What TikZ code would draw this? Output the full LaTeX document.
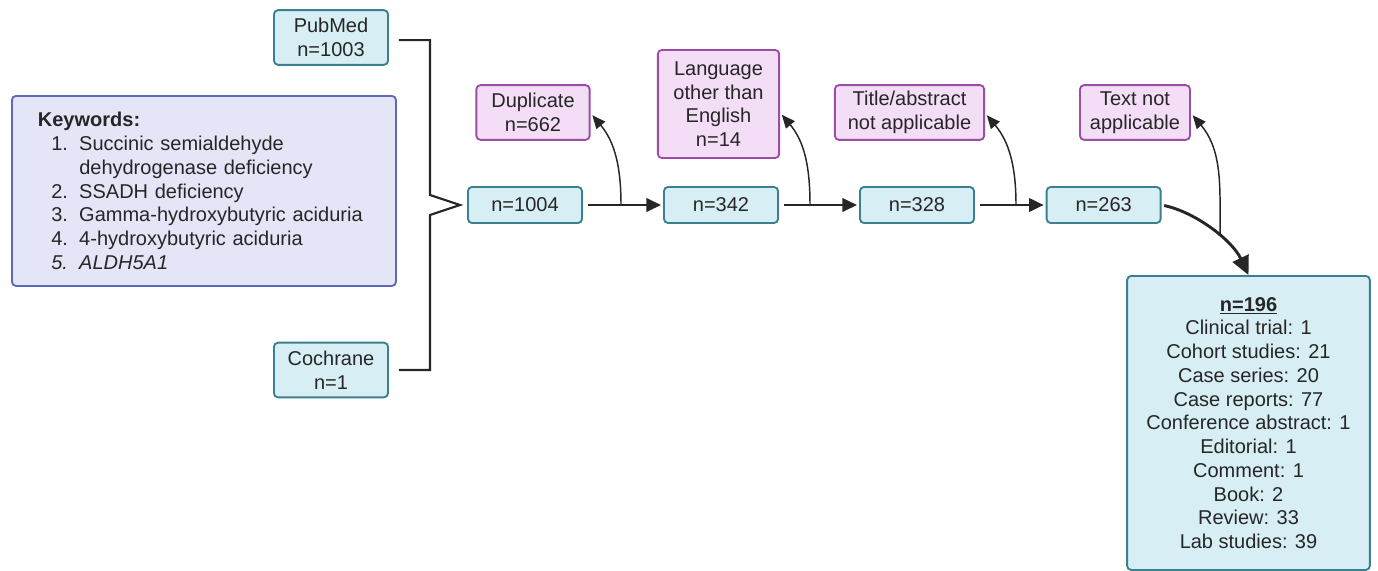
\documentclass[tikz,border=0pt]{standalone}
\usepackage{fontspec}
\setmainfont{Liberation Sans}
\usepackage{xcolor}
\usetikzlibrary{arrows.meta}
\definecolor{boxblue}{HTML}{D7EEF4}
\definecolor{lineblue}{HTML}{3A8090}
\definecolor{boxpurple}{HTML}{F4DDF6}
\definecolor{linepurple}{HTML}{9A4EA6}
\definecolor{boxlilac}{HTML}{E4E6F7}
\definecolor{linelilac}{HTML}{5D69BD}
\definecolor{inkgray}{HTML}{262626}

\begin{document}
\begin{tikzpicture}[x=0.75pt,y=-0.75pt,
	font=\fontsize{15}{17.8}\selectfont,text=inkgray,
	countbox/.style={draw=lineblue,fill=boxblue,line width=1.4pt,rounded corners=3pt,minimum width=85.5pt,minimum height=27pt,inner sep=2pt,align=center},
	srcbox/.style={countbox,minimum height=41pt},
	exbox/.style={draw=linepurple,fill=boxpurple,line width=1.4pt,rounded corners=3pt,minimum height=41pt,inner sep=2pt,align=center},
	kwbox/.style={draw=linelilac,fill=boxlilac,line width=1.4pt,rounded corners=3pt,minimum width=288pt,minimum height=142.5pt,text width=249pt,inner xsep=19.5pt,align=left},
	flow/.style={draw=inkgray,line width=2pt,-{Triangle[length=11pt,width=10pt]},shorten <=4pt,shorten >=1.5pt},
	branch/.style={draw=inkgray,line width=1.1pt,-{Triangle[length=10pt,width=8.5pt]},shorten >=2pt},
	bracketline/.style={draw=inkgray,line width=1.6pt}]
	\useasboundingbox (0,0) rectangle (1378,571);

	% sources and search terms
	\node[srcbox] (pub) at (331,37.5) {PubMed\\n=1003};
	\node[srcbox] (coch) at (331,370) {Cochrane\\n=1};
	\node[kwbox,anchor=north west] (kw) at (11,95) {\textbf{Keywords:}\\
		\hspace*{10pt}\makebox[21pt][l]{1.}Succinic semialdehyde\\
		\hspace*{31pt}dehydrogenase deficiency\\
		\hspace*{10pt}\makebox[21pt][l]{2.}SSADH deficiency\\
		\hspace*{10pt}\makebox[21pt][l]{3.}Gamma-hydroxybutyric aciduria\\
		\hspace*{10pt}\makebox[21pt][l]{4.}4-hydroxybutyric aciduria\\
		\hspace*{10pt}\makebox[21pt][l]{\itshape 5.}\textit{ALDH5A1}};

	% screening chain
	\node[countbox] (c1) at (525,205) {n=1004};
	\node[countbox,right of=c1,node distance=147pt] (c2) {n=342};
	\node[countbox,right of=c2,node distance=147pt] (c3) {n=328};
	\node[countbox,right of=c3,node distance=140pt] (c4) {n=263};
	\node[countbox,anchor=north,minimum width=182pt,minimum height=220.5pt] (final) at (1248.5,275) {\underline{\textbf{n=196}}\\
		Clinical trial: 1\\
		Cohort studies: 21\\
		Case series: 20\\
		Case reports: 77\\
		Conference abstract: 1\\
		Editorial: 1\\
		Comment: 1\\
		Book: 2\\
		Review: 33\\
		Lab studies: 39};

	% excluded records
	\node[exbox,minimum width=85pt] (dup) at (533,112.5) {Duplicate\\n=662};
	\node[exbox,minimum width=91pt,minimum height=81pt] (lang) at (718.5,104) {Language\\other than\\English\\n=14};
	\node[exbox,minimum width=112pt] (title) at (909.5,112.5) {Title/abstract\\not applicable};
	\node[exbox,minimum width=82.5pt] (notext) at (1135,112.5) {Text not\\applicable};

	% bracket joining the two databases
	\coordinate (brktop) at (430,195);
	\coordinate (brktip) at (460,205);
	\coordinate (brkbot) at (430,215);
	\draw[bracketline,line join=miter] ([xshift=7.5pt,yshift=-2pt]pub.east) -| (brktop) -- (brktip) -- (brkbot) |- ([xshift=7.5pt]coch.east);

	% main flow
	\draw[flow] (c1) -- (c2);
	\draw[flow] (c2) -- (c3);
	\draw[flow] (c3) -- (c4);
	\draw[draw=inkgray,line width=2.2pt,-{Triangle[length=14pt,width=13pt]},shorten <=2pt] (c4.east) .. controls (1195,212) and (1232,240) .. (final.north);

	% branches to excluded records
	\coordinate (out1) at (621,205);
	\coordinate (out2) at (810,205);
	\coordinate (out3) at (1016,205);
	\coordinate (out4) at (1220,236);
	\draw[branch] (out1) to[out=90,in=-50] ([yshift=-0.5pt]dup.east);
	\draw[branch] (out2) to[out=90,in=-50] ([yshift=-6.5pt]lang.east);
	\draw[branch] (out3) to[out=90,in=-50] ([yshift=-0.5pt]title.east);
	\draw[branch] (out4) to[out=90,in=-50] ([yshift=-0.5pt]notext.east);
\end{tikzpicture}
\end{document}
